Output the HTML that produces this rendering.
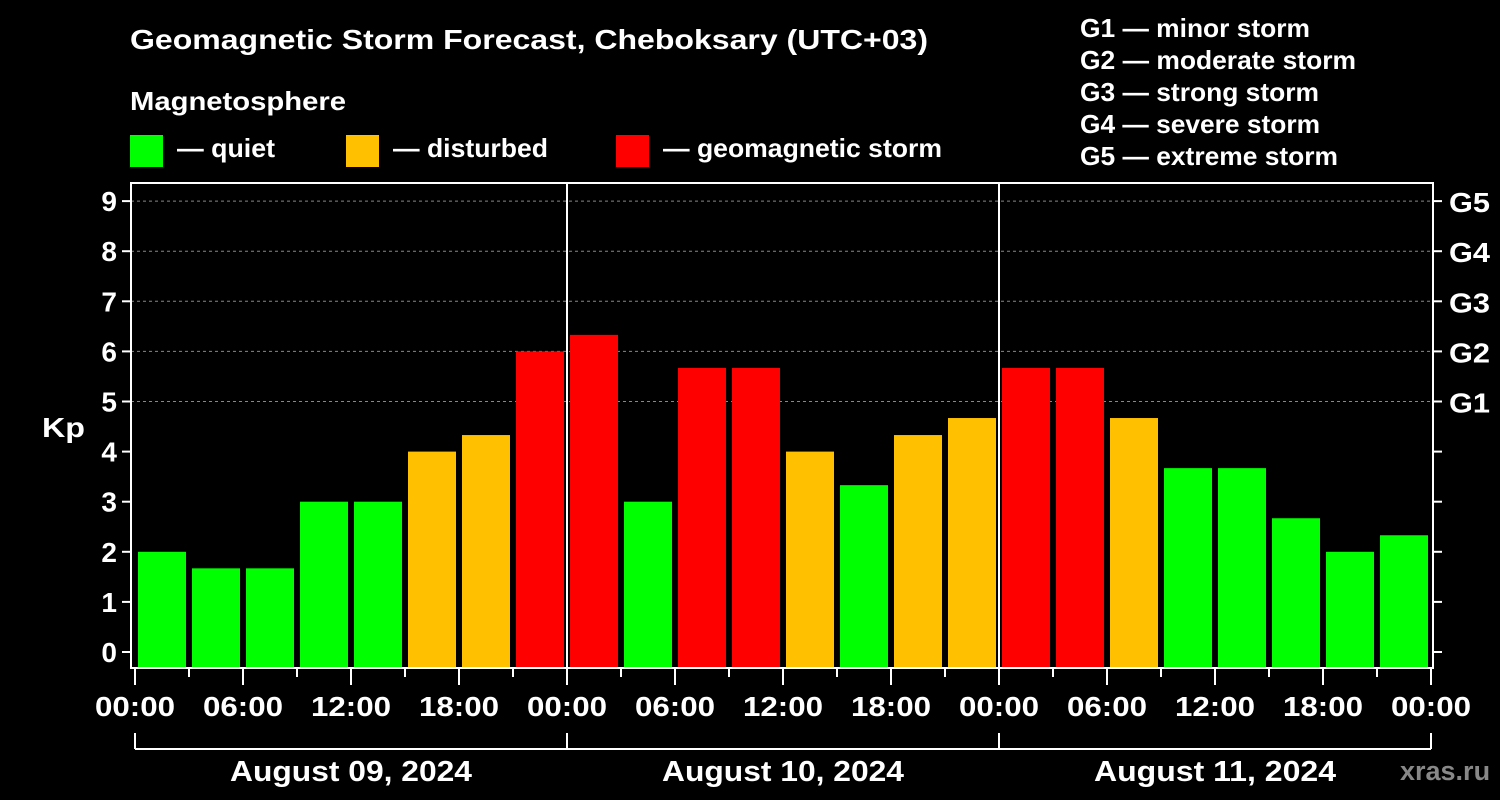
<!DOCTYPE html>
<html><head><meta charset="utf-8"><style>
body{margin:0;background:#000;width:1500px;height:800px;overflow:hidden}
svg{display:block}
text{font-family:"Liberation Sans",Arial,sans-serif;font-weight:bold;fill:#fff}
</style></head><body>
<svg id="c" width="1500" height="800">
<text x="130" y="49" font-size="28" textLength="798" lengthAdjust="spacingAndGlyphs">Geomagnetic Storm Forecast, Cheboksary (UTC+03)</text>
<text x="130" y="110" font-size="26" textLength="216" lengthAdjust="spacingAndGlyphs">Magnetosphere</text>
<g><rect x="130" y="135" width="33" height="32" fill="#00ff00"/><text x="177" y="157" font-size="26" textLength="98" lengthAdjust="spacingAndGlyphs">— quiet</text></g>
<g><rect x="346" y="135" width="33" height="32" fill="#ffc000"/><text x="393" y="157" font-size="26" textLength="155" lengthAdjust="spacingAndGlyphs">— disturbed</text></g>
<g><rect x="616" y="135" width="33" height="32" fill="#ff0000"/><text x="663" y="157" font-size="26" textLength="279" lengthAdjust="spacingAndGlyphs">— geomagnetic storm</text></g>
<g font-size="26">
<text x="1080" y="37" textLength="230" lengthAdjust="spacingAndGlyphs">G1 — minor storm</text><text x="1080" y="69" textLength="276" lengthAdjust="spacingAndGlyphs">G2 — moderate storm</text><text x="1080" y="101" textLength="239" lengthAdjust="spacingAndGlyphs">G3 — strong storm</text><text x="1080" y="133" textLength="240" lengthAdjust="spacingAndGlyphs">G4 — severe storm</text><text x="1080" y="165" textLength="258" lengthAdjust="spacingAndGlyphs">G5 — extreme storm</text></g>
<text x="42" y="437" font-size="28" textLength="43" lengthAdjust="spacingAndGlyphs">Kp</text>
<text x="1400" y="780" font-size="27" style="fill:#888">xras.ru</text>
<g id="grid"></g><g id="bars"></g><g id="axes"></g>
</svg>
<script>
const values=[2,1.67,1.67,3,3,4,4.33,6, 6.33,3,5.67,5.67,4,3.33,4.33,4.67, 5.67,5.67,4.67,3.67,3.67,2.67,2,2.33];
const yTicks=[0,1,2,3,4,5,6,7,8,9];
const gLabels=["G1","G2","G3","G4","G5"];
const xLabels=["00:00","06:00","12:00","18:00","00:00","06:00","12:00","18:00","00:00","06:00","12:00","18:00","00:00"];
const days=["August 09, 2024","August 10, 2024","August 11, 2024"];
const NS="http://www.w3.org/2000/svg";
const X0=135,SLOT=54,L=131,R=1433,T=183,B=668;
const y=v=>652-50.1*v;
const x=i=>X0+i*SLOT;
function el(p,t,a){const e=document.createElementNS(NS,t);for(const k in a)e.setAttribute(k,a[k]);p.appendChild(e);return e;}
const grid=document.getElementById('grid'),bars=document.getElementById('bars'),ax=document.getElementById('axes');
yTicks.forEach(v=>{if(v>=5){const g=el(grid,'line',{x1:L,x2:R,y1:y(v),y2:y(v),stroke:'#888','stroke-dasharray':'3,3'});

}
el(ax,'line',{x1:L-9,x2:L,y1:y(v),y2:y(v),stroke:'#fff','stroke-width':2});
el(ax,'line',{x1:R,x2:R+9,y1:y(v),y2:y(v),stroke:'#fff','stroke-width':2});
const tx=el(ax,'text',{x:L-14,y:y(v)+10,'font-size':28,'text-anchor':'end'});tx.textContent=v;


if(v>=5){const g=el(ax,'text',{x:R+16,y:y(v)+11,'font-size':28,textLength:41,lengthAdjust:'spacingAndGlyphs'});g.textContent=gLabels[v-5];

}
});
values.forEach((v,i)=>{const c=v<4?'#00ff00':(v<5?'#ffc000':'#ff0000');
const r=el(bars,'rect',{x:x(i)+3,y:y(v),width:48,height:B-y(v),fill:c});

});
el(ax,'rect',{x:L,y:T,width:R-L,height:B-T,fill:'none',stroke:'#fff','stroke-width':2});
[1,2].forEach(d=>el(ax,'line',{x1:x(d*8),x2:x(d*8),y1:T,y2:B,stroke:'#fff','stroke-width':2}));
for(let i=0;i<=24;i++){const maj=i%2==0;el(ax,'line',{x1:x(i),x2:x(i),y1:B,y2:maj?685:677,stroke:'#fff','stroke-width':2});}
xLabels.forEach((s,j)=>{const t=el(ax,'text',{x:x(j*2),y:716,'font-size':28,'text-anchor':'middle',textLength:80,lengthAdjust:'spacingAndGlyphs'});t.textContent=s;

});
el(ax,'line',{x1:x(0),x2:x(24),y1:749,y2:749,stroke:'#fff','stroke-width':2});
for(let d=0;d<=3;d++)el(ax,'line',{x1:x(d*8),x2:x(d*8),y1:733,y2:749,stroke:'#fff','stroke-width':2});
days.forEach((s,d)=>{const t=el(ax,'text',{x:x(d*8+4),y:781,'font-size':29,'text-anchor':'middle',textLength:242,lengthAdjust:'spacingAndGlyphs'});t.textContent=s;

});
</script>
</body></html>
